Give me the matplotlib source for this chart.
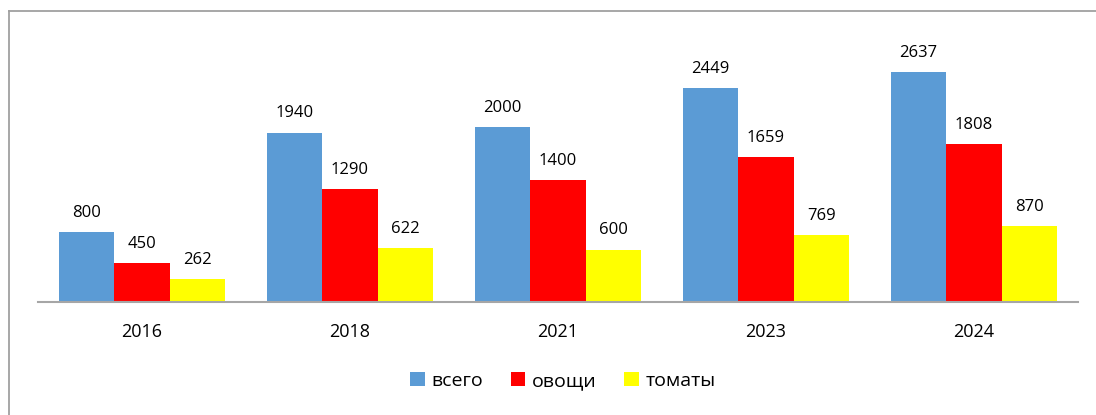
import numpy as np
import matplotlib.pyplot as plt
from matplotlib.lines import Line2D

# данные
years = ['2016', '2018', '2021', '2023', '2024']
vsego = [800, 1940, 2000, 2449, 2637]
ovoshi = [450, 1290, 1400, 1659, 1808]
tomaty = [262, 622, 600, 769, 870]
names = ['всего', 'овощи', 'томаты']
colors = ['#5B9BD5', '#FF0000', '#FFFF00']

plt.rcParams['font.family'] = ['Open Sans', 'DejaVu Sans']

W, H = 1096, 415
fig = plt.figure(figsize=(W / 100, H / 100), dpi=100)
ax = fig.add_axes([38 / W, (H - 302) / H, 1040 / W, 262 / H])

x = np.arange(len(years))
w = 0.267
for i, (vals, nm, c) in enumerate(zip([vsego, ovoshi, tomaty], names, colors)):
    bars = ax.bar(x + (i - 1) * w, vals, w, color=c, label=nm)
    ax.bar_label(bars, padding=8, fontsize=12)

ax.set_xlim(-0.5, len(years) - 0.5)
ax.set_ylim(0, 3000)
ax.set_yticks([])
ax.set_xticks(x, years, fontsize=13)
ax.tick_params(axis='x', length=0, pad=15)
for s in ['top', 'right', 'left']:
    ax.spines[s].set_visible(False)
ax.spines['bottom'].set_color('#A6A6A6')
ax.spines['bottom'].set_linewidth(1.5)

fig.legend(loc='center', bbox_to_anchor=(563 / W, 1 - 381 / H), ncol=3,
           frameon=False, fontsize=14, handlelength=0.75, handleheight=0.75,
           handletextpad=0.35, columnspacing=1.4)

# рамка
fig.add_artist(Line2D([9 / W, 9 / W], [0, 1 - 11 / H], color='#A0A0A0', lw=1.3))
fig.add_artist(Line2D([9 / W, 1], [1 - 11 / H, 1 - 11 / H], color='#A0A0A0', lw=1.3))

fig.savefig('out.png', dpi=100)
